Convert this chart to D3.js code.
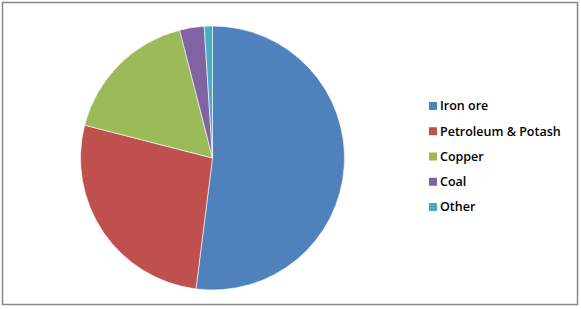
<!DOCTYPE html>
<html><head><meta charset="utf-8">
<script src="https://cdn.jsdelivr.net/npm/d3@7"></script>
<style>body{margin:0;background:#fff}svg{display:block}</style>
</head><body>
<svg id="c" width="581" height="309"></svg>
<script>
const categories = ["Iron ore", "Petroleum & Potash", "Copper", "Coal", "Other"];
const values = [52, 27, 17, 3, 1];
const colors = ["#4F81BD", "#C0504D", "#9BBB59", "#8064A2", "#4BACC6"];

const svg = d3.select("#c");
svg.append("rect").attr("x", 2.5).attr("y", 2.5).attr("width", 575).attr("height", 302)
  .attr("fill", "#fff").attr("stroke", "#888").attr("stroke-width", 1.5);

const color = d3.scaleOrdinal().domain(categories).range(colors);
const pie = d3.pie().sort(null).value(d => d.v);
const arcs = pie(categories.map((c, i) => ({c, v: values[i]})));
const arc = d3.arc().innerRadius(0).outerRadius(132);

svg.append("g").attr("transform", "translate(212.5,158)")
  .selectAll("path").data(arcs).join("path")
  .attr("d", arc).attr("fill", d => color(d.data.c))
  .attr("stroke", "#fff").attr("stroke-width", 0.6);

const y = d3.scalePoint().domain(categories).range([106, 207]);
const lg = svg.append("g").selectAll("g").data(categories).join("g")
  .attr("transform", d => `translate(429,${y(d)})`);
lg.append("rect").attr("x", 0).attr("y", -4).attr("width", 8).attr("height", 8).attr("fill", d => color(d));
lg.append("text").attr("x", 11).attr("y", 0).attr("dy", "0.35em")
  .attr("font-family", "'Open Sans', 'Liberation Sans', sans-serif").attr("font-size", 12.5)
  .attr("font-weight", 600)
  .attr("fill", "#000").text(d => d);
</script>
</body></html>
